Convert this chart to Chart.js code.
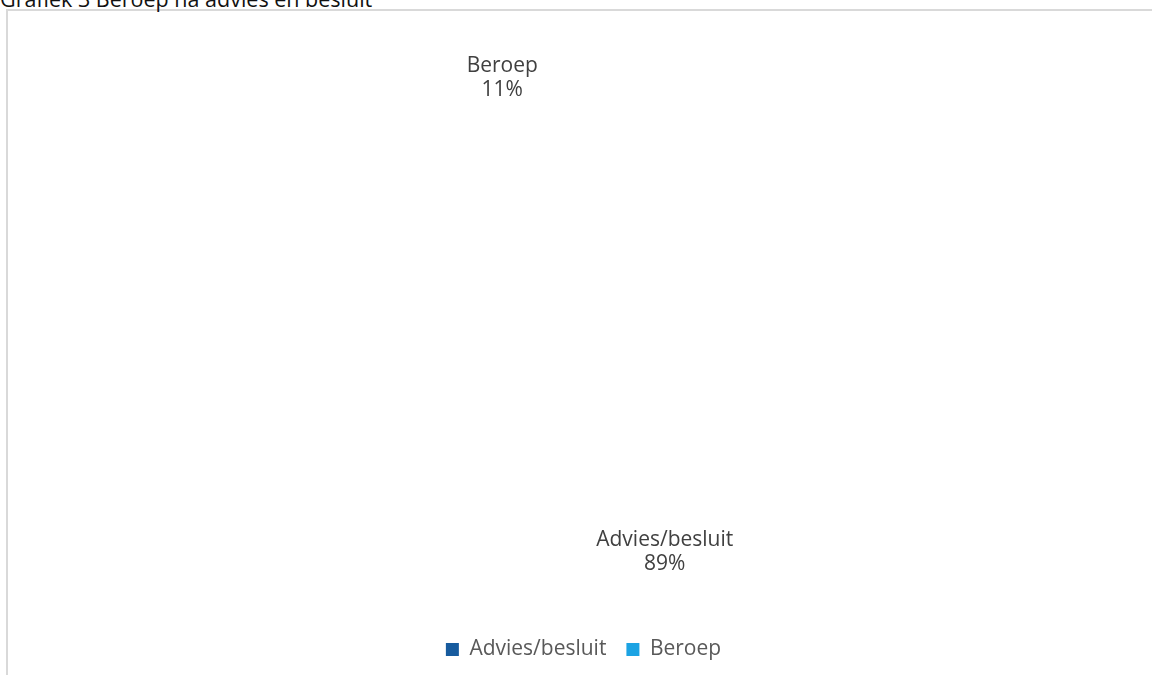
<!DOCTYPE html>
<html>
<head>
<meta charset="utf-8">
<script src="https://cdn.jsdelivr.net/npm/chart.js@4.4.1/dist/chart.umd.min.js"></script>
<style>
    html, body { margin: 0; padding: 0; background: #fff; overflow: hidden; }
    #wrap { position: relative; width: 1152px; height: 675px; }
    #title {
        position: absolute; left: 0; top: -12px;
        font: 21.5px "Open Sans", sans-serif; line-height: 21.5px; color: #111;
        white-space: nowrap;
    }
    #frame {
        position: absolute; left: 6px; top: 9px; width: 1200px; height: 720px;
        border: 2px solid #d9d9d9; box-sizing: border-box;
    }
    #chart { position: absolute; left: 0; top: 0; }
</style>
</head>
<body>
<div id="wrap">
    <div id="frame"></div>
    <div id="title">Grafiek 3 Beroep na advies en besluit</div>
    <canvas id="chart" width="1152" height="675"></canvas>
</div>
<script>
const categories = ['Advies/besluit', 'Beroep'];
const shares = [89, 11];
const legendColors = ['#175b9e', '#1ca3e3'];

// Excel-style data labels: category name + percentage, two lines
const sliceLabels = {
    id: 'sliceLabels',
    afterDatasetsDraw(chart) {
        const ctx = chart.ctx;
        const meta = chart.getDatasetMeta(0);
        ctx.save();
        ctx.font = '21px "Open Sans", sans-serif';
        ctx.fillStyle = '#404040';
        ctx.textAlign = 'center';
        ctx.textBaseline = 'middle';
        meta.data.forEach((arc, i) => {
            const mid = (arc.startAngle + arc.endAngle) / 2;
            const x = arc.x + Math.cos(mid) * arc.outerRadius * 0.789;
            const y = arc.y + Math.sin(mid) * arc.outerRadius * 0.828;
            ctx.fillText(categories[i], x, y - 12);
            ctx.fillText(shares[i] + '%', x, y + 12);
        });
        ctx.restore();
    }
};

new Chart(document.getElementById('chart'), {
    type: 'pie',
    data: {
        labels: categories,
        datasets: [{
            data: shares,
            backgroundColor: 'rgba(255,255,255,0)',
            borderWidth: 0
        }]
    },
    options: {
        responsive: false,
        animation: false,
        layout: { padding: { left: 15, right: 0, top: 11, bottom: 5 } },
        plugins: {
            tooltip: { enabled: false },
            legend: {
                position: 'bottom',
                labels: {
                    boxWidth: 13,
                    boxHeight: 13,
                    padding: 20,
                    color: '#595959',
                    font: { family: '"Open Sans", sans-serif', size: 21 },
                    generateLabels: (chart) => categories.map((c, i) => ({
                        text: c,
                        fillStyle: legendColors[i],
                        strokeStyle: legendColors[i],
                        lineWidth: 0,
                        fontColor: '#595959',
                        index: i
                    }))
                }
            }
        }
    },
    plugins: [sliceLabels]
});
</script>
</body>
</html>
